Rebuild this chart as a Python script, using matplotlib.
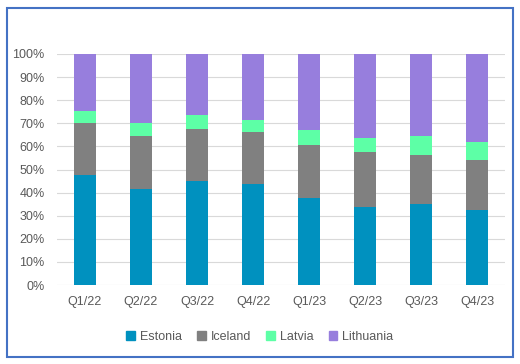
import numpy as np
import matplotlib.pyplot as plt
from matplotlib.patches import Rectangle, Patch

quarters = ['Q1/22', 'Q2/22', 'Q3/22', 'Q4/22', 'Q1/23', 'Q2/23', 'Q3/23', 'Q4/23']
estonia = [47.6, 41.6, 45.0, 43.9, 37.7, 33.8, 35.1, 32.5]
iceland = [22.5, 22.9, 22.5, 22.3, 22.9, 23.8, 21.2, 21.6]
latvia = [5.2, 5.6, 6.1, 5.2, 6.5, 6.0, 8.2, 7.8]
lithuania = [24.7, 29.9, 26.4, 28.6, 32.9, 36.4, 35.5, 38.1]

names = ['Estonia', 'Iceland', 'Latvia', 'Lithuania']
colors = ['#0091BF', '#808080', '#5DFFA6', '#977EDD']
series = [estonia, iceland, latvia, lithuania]

plt.rcParams['font.family'] = ['Liberation Sans', 'DejaVu Sans']
fig = plt.figure(figsize=(5.2, 3.64), dpi=100)
ax = fig.add_axes([57 / 520, 1 - 285 / 364, 448 / 520, 231 / 364])

x = np.arange(len(quarters))
bottom = np.zeros(len(quarters))
for vals, c in zip(series, colors):
    v = np.array(vals)
    ax.bar(x, v, 0.41, bottom=bottom, color=c, zorder=3)
    bottom += v

ax.set_xlim(-0.5, len(quarters) - 0.5)
ax.set_ylim(0, 100)
ax.set_yticks(np.arange(0, 101, 10))
ax.set_yticklabels([f'{t}%' for t in range(0, 101, 10)])
ax.set_xticks(x)
ax.set_xticklabels(quarters)
ax.grid(axis='y', color='#D9D9D9', linewidth=0.8, zorder=0)
for s in ax.spines.values():
    s.set_visible(False)
ax.tick_params(length=0, labelsize=9, colors='#595959')
ax.tick_params(axis='y', pad=9)
ax.tick_params(axis='x', pad=8)

handles = [Patch(color=c, label=n) for n, c in zip(names, colors)]
fig.legend(handles=handles, loc='center', bbox_to_anchor=(0.5, 1 - 337 / 364),
           ncol=4, frameon=False, fontsize=9, handlelength=0.7, handleheight=0.7,
           handletextpad=0.4, columnspacing=1.2, labelcolor='#595959')

fig.patches.append(Rectangle((6.5 / 520, 1 - 357 / 364), 506.5 / 520, 349 / 364,
                             transform=fig.transFigure, fill=False,
                             edgecolor='#4472C4', linewidth=1.5))

fig.savefig('out.png', dpi=100)
